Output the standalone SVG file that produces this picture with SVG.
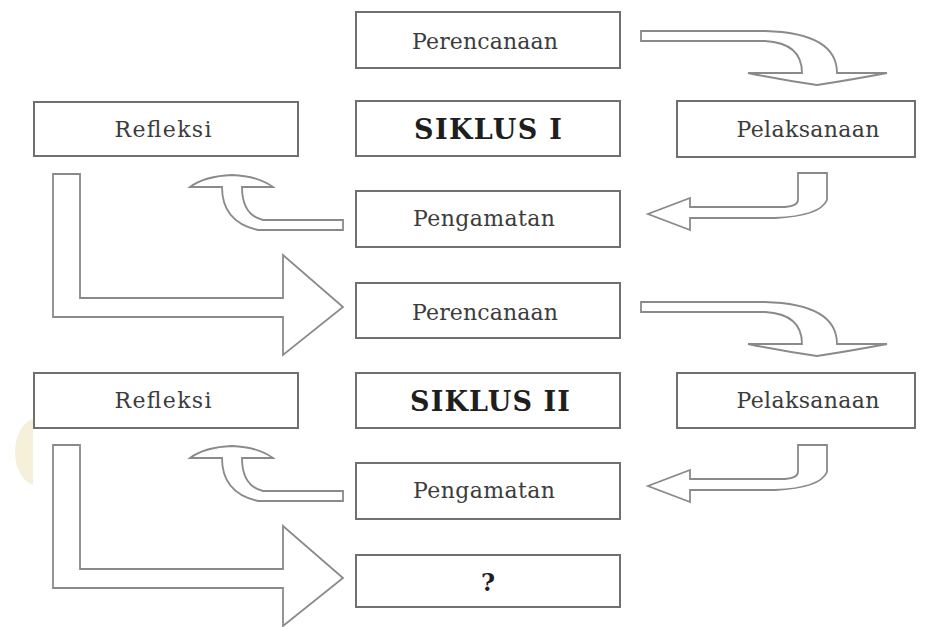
<svg xmlns="http://www.w3.org/2000/svg" width="935" height="627" viewBox="0 0 935 627">
<style>
.box{fill:#fff;stroke:#707070;stroke-width:2}
.t{font-family:"DejaVu Serif","Liberation Serif",serif;font-size:22px;fill:#3c3c3c;text-anchor:middle}
.b{font-weight:bold;font-size:27px;fill:#1e1e1e}
.arr{fill:#fff;stroke:#8a8a8a;stroke-width:1.8;stroke-linejoin:miter}
</style>
<defs>
<clipPath id="wm"><rect x="0" y="400" width="33" height="100"/></clipPath>
</defs>
<rect width="935" height="627" fill="#fff"/>
<ellipse cx="36" cy="452" rx="21" ry="33" fill="#eadcaa" opacity="0.45" clip-path="url(#wm)"/>
<g id="connectors">
  <!-- Perencanaan -> Pelaksanaan -->
  <path class="arr" d="M641,31 L765,31 Q837,33 837,73 L887,73 Q850,80 817,85 Q782,80 748,73 L802,73 Q802,43 765,41 L641,41 Z"/>
  <path class="arr" d="M641,31 L765,31 Q837,33 837,73 L887,73 Q850,80 817,85 Q782,80 748,73 L802,73 Q802,43 765,41 L641,41 Z" transform="translate(0,271)"/>
  <!-- Pelaksanaan -> Pengamatan -->
  <path class="arr" d="M798,173 L827,173 L827,200 Q820,216 775,218 L690,218 L690,230 L648,214 L690,198 L690,207 L785,207 Q798,206 798,200 Z"/>
  <path class="arr" d="M798,173 L827,173 L827,200 Q820,216 775,218 L690,218 L690,230 L648,214 L690,198 L690,207 L785,207 Q798,206 798,200 Z" transform="translate(0,272)"/>
  <!-- Pengamatan -> Refleksi -->
  <path class="arr" d="M343,220 L343,230 L258,230 Q222,222 222,187 L190,187 Q205,176 232,175 Q258,176 273,187 L242,187 Q242,215 263,220 Z"/>
  <path class="arr" d="M343,220 L343,230 L258,230 Q222,222 222,187 L190,187 Q205,176 232,175 Q258,176 273,187 L242,187 Q242,215 263,220 Z" transform="translate(0,271)"/>
  <!-- Refleksi -> next Perencanaan -->
  <path class="arr" d="M53,174 L80,174 L80,298 L283,298 L283,255 L343,307 L283,355 L283,317 L53,317 Z"/>
  <path class="arr" d="M53,174 L80,174 L80,298 L283,298 L283,255 L343,307 L283,355 L283,317 L53,317 Z" transform="translate(0,271)"/>
</g>
<g id="perencanaan1"><rect class="box" x="356" y="12" width="264" height="56"/><text class="t" x="485" y="49" textLength="146" lengthAdjust="spacing">Perencanaan</text></g>
<g id="siklus1"><rect class="box" x="356" y="101" width="264" height="55"/><text class="t b" x="488" y="139" textLength="148" lengthAdjust="spacing">SIKLUS I</text></g>
<g id="refleksi1"><rect class="box" x="34" y="102" width="264" height="54"/><text class="t" x="163" y="137" textLength="97" lengthAdjust="spacing">Refleksi</text></g>
<g id="pelaksanaan1"><rect class="box" x="677" y="101" width="238" height="56"/><text class="t" x="808" y="137" textLength="143" lengthAdjust="spacing">Pelaksanaan</text></g>
<g id="pengamatan1"><rect class="box" x="356" y="191" width="264" height="56"/><text class="t" x="484" y="226" textLength="142" lengthAdjust="spacing">Pengamatan</text></g>
<g id="perencanaan2"><rect class="box" x="356" y="283" width="264" height="55"/><text class="t" x="485" y="320" textLength="146" lengthAdjust="spacing">Perencanaan</text></g>
<g id="siklus2"><rect class="box" x="356" y="373" width="264" height="55"/><text class="t b" x="490" y="411" textLength="160" lengthAdjust="spacing">SIKLUS II</text></g>
<g id="refleksi2"><rect class="box" x="34" y="373" width="264" height="55"/><text class="t" x="163" y="408" textLength="97" lengthAdjust="spacing">Refleksi</text></g>
<g id="pelaksanaan2"><rect class="box" x="677" y="373" width="238" height="55"/><text class="t" x="808" y="408" textLength="143" lengthAdjust="spacing">Pelaksanaan</text></g>
<g id="pengamatan2"><rect class="box" x="356" y="463" width="264" height="56"/><text class="t" x="484" y="498" textLength="142" lengthAdjust="spacing">Pengamatan</text></g>
<g id="next"><rect class="box" x="356" y="555" width="264" height="52"/><text class="t b" x="488" y="591" style="font-size:24px">?</text></g>
</svg>
